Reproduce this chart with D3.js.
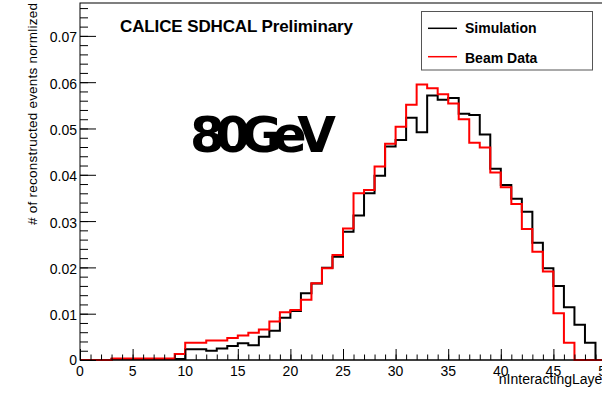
<!DOCTYPE html>
<html>
<head>
<meta charset="utf-8">
<script src="https://cdn.jsdelivr.net/npm/d3@7"></script>
<style>
  body { margin: 0; background: #fff; }
  svg { display: block; font-family: "Liberation Sans", Arial, sans-serif; }
</style>
</head>
<body>
<div id="container"></div>
<script>
// bin edges 0..50, width 1
const simulation = [
  0, 0, 0, 0.0002, 0.0002, 0.0002, 0.0002, 0.0002, 0.0002, 0.0002,
  0.0023, 0.0023, 0.0020, 0.0025, 0.0030, 0.0036, 0.0032, 0.0050, 0.0063, 0.0091,
  0.0106, 0.0144, 0.0165, 0.0199, 0.0223, 0.0277, 0.0312, 0.0360, 0.0398, 0.0461,
  0.0475, 0.0523, 0.0492, 0.0571, 0.0562, 0.0566, 0.0532, 0.0529, 0.0487, 0.0413,
  0.0378, 0.0348, 0.0320, 0.0253, 0.0198, 0.0160, 0.0114, 0.0076, 0.0037, 0
];
const beamData = [
  0, 0, 0, 0.0003, 0.0003, 0.0003, 0.0003, 0.0003, 0.0003, 0.0013,
  0.0037, 0.0037, 0.0042, 0.0042, 0.00475, 0.0053, 0.0059, 0.0066, 0.0083, 0.0103,
  0.0108, 0.0130, 0.0166, 0.0198, 0.0227, 0.0284, 0.0360, 0.0367, 0.0418, 0.0467,
  0.0504, 0.0551, 0.0595, 0.0587, 0.0574, 0.0554, 0.0520, 0.0469, 0.0459, 0.0405,
  0.0373, 0.0337, 0.0283, 0.0234, 0.0191, 0.0101, 0.0037, 0, 0, 0
];
const xTicks = [0, 5, 10, 15, 20, 25, 30, 35, 40, 45, 50];
const yTicks = [0, 0.01, 0.02, 0.03, 0.04, 0.05, 0.06, 0.07];
const legendData = [
  { label: "Simulation", color: "#000" },
  { label: "Beam Data", color: "#ff0000" }
];

const totalWidth = 602, totalHeight = 394;
const frame = { left: 80, right: 606, top: 3, bottom: 360 };

const x = d3.scaleLinear().domain([0, 50]).range([frame.left, frame.right]);
const y = d3.scaleLinear().domain([0, 0.0771]).range([frame.bottom, frame.top]);

const svg = d3.select("#container").append("svg")
  .attr("width", totalWidth).attr("height", totalHeight);

svg.append("clipPath").attr("id", "clip")
  .append("rect").attr("x", frame.left).attr("y", frame.top)
  .attr("width", frame.right - frame.left).attr("height", frame.bottom - frame.top + 1);

// Frame
svg.append("rect")
  .attr("x", frame.left).attr("y", frame.top)
  .attr("width", frame.right - frame.left).attr("height", frame.bottom - frame.top)
  .attr("fill", "none").attr("stroke", "#000").attr("stroke-width", 1);

// Histograms
const line = d3.line()
  .x(d => x(d[0]))
  .y(d => y(d[1]))
  .curve(d3.curveStepAfter);

function histPoints(values) {
  const pts = values.map((v, i) => [i, v]);
  pts.push([values.length, values[values.length - 1]]);
  return pts;
}

[[simulation, "#000"], [beamData, "#ff0000"]].forEach(([vals, color]) => {
  svg.append("path")
    .attr("clip-path", "url(#clip)")
    .attr("d", line(histPoints(vals)))
    .attr("fill", "none")
    .attr("stroke", color)
    .attr("stroke-width", 2);
});

// X axis (ticks pointing up)
const xAxis = svg.append("g").attr("transform", `translate(0,${frame.bottom})`);
xAxis.call(d3.axisTop(x).tickValues(d3.range(0, 51, 1)).tickSize(5.5).tickFormat(""))
  .call(g => g.select(".domain").remove());
xAxis.append("g").call(d3.axisTop(x).tickValues(xTicks).tickSize(11).tickFormat(""))
  .call(g => g.select(".domain").remove());
xAxis.append("line").attr("x1", frame.left).attr("x2", frame.right).attr("stroke", "#000");
xAxis.selectAll("text.xl").data(xTicks).enter().append("text")
  .attr("class", "xl")
  .attr("x", d => x(d)).attr("y", 15.7)
  .attr("text-anchor", "middle")
  .attr("font-size", 14).attr("fill", "#000")
  .text(d => d);

// Y axis (ticks pointing right)
const yAxis = svg.append("g").attr("transform", `translate(${frame.left},0)`);
yAxis.call(d3.axisRight(y).tickValues(d3.range(0, 0.0771, 0.002)).tickSize(8).tickFormat(""))
  .call(g => g.select(".domain").remove());
yAxis.append("g").call(d3.axisRight(y).tickValues(yTicks).tickSize(16).tickFormat(""))
  .call(g => g.select(".domain").remove());
yAxis.selectAll("text.yl").data(yTicks).enter().append("text")
  .attr("class", "yl")
  .attr("x", -3).attr("y", d => y(d) + (d === 0 ? 5 : 6.5))
  .attr("text-anchor", "end")
  .attr("font-size", 14).attr("fill", "#000")
  .text(d => d === 0 ? "0" : d3.format(".2f")(d));

// Axis titles
svg.append("text")
  .attr("x", 614).attr("y", 384)
  .attr("text-anchor", "end")
  .attr("font-size", 14)
  .text("nInteractingLayers");

svg.append("text")
  .attr("transform", "rotate(-90)")
  .attr("x", -3).attr("y", 37)
  .attr("text-anchor", "end")
  .attr("font-size", 13.5)
  .attr("textLength", 222)
  .text("# of reconstructed events normlized");

// Labels
svg.append("text")
  .attr("x", 120).attr("y", 31.5)
  .attr("font-size", 17).attr("font-weight", "bold")
  .attr("textLength", 233)
  .text("CALICE SDHCAL Preliminary");

svg.append("text")
  .attr("x", 190).attr("y", 152)
  .attr("font-family", "'DejaVu Sans', sans-serif")
  .attr("font-size", 50).attr("font-weight", "bold")
  .attr("textLength", 146)
  .text("80GeV");

// Legend
const legend = svg.append("g");
legend.append("rect")
  .attr("x", 421.5).attr("y", 11.5)
  .attr("width", 171).attr("height", 58.5)
  .attr("fill", "#fff").attr("stroke", "#555").attr("stroke-width", 1);

legend.selectAll("line.lg").data(legendData).enter().append("line")
  .attr("class", "lg")
  .attr("x1", 428).attr("x2", 457)
  .attr("y1", (d, i) => 28.3 + i * 28.4).attr("y2", (d, i) => 28.3 + i * 28.4)
  .attr("stroke", d => d.color).attr("stroke-width", 1.5);

legend.selectAll("text.lg").data(legendData).enter().append("text")
  .attr("class", "lg")
  .attr("x", 465).attr("y", (d, i) => 33 + i * 29.5)
  .attr("font-size", 14).attr("font-weight", "bold")
  .text(d => d.label);
</script>
</body>
</html>
